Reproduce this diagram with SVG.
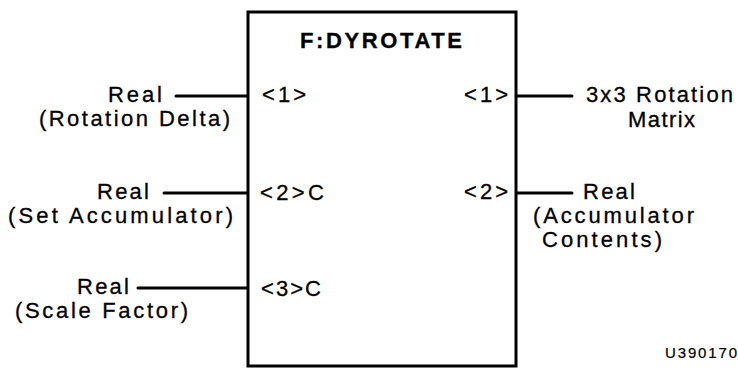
<svg xmlns="http://www.w3.org/2000/svg" width="738" height="369" viewBox="0 0 738 369">
<style>
text{font-family:"Liberation Sans",Arial,Helvetica,sans-serif;font-size:22px;fill:#000;stroke:#000;stroke-width:0.3}
.t{font-weight:bold;font-size:22px}
.id{font-size:15px;stroke-width:0.2}
.box{fill:#fff;stroke:#000;stroke-width:3}
.c{stroke:#000;stroke-width:3;stroke-linecap:round;fill:none}
</style>
<rect width="738" height="369" fill="#fff"/>
<g id="connectors">
<line class="c" x1="176" y1="96" x2="248" y2="96"/>
<line class="c" x1="164" y1="193" x2="248" y2="193"/>
<line class="c" x1="138" y1="288" x2="248" y2="288"/>
<line class="c" x1="516" y1="96" x2="572" y2="96"/>
<line class="c" x1="516" y1="193" x2="572" y2="193"/>
</g>
<g id="node-dyrotate">
<rect class="box" x="248" y="12" width="268" height="354"/>
<text class="t" x="300" y="48" textLength="162" lengthAdjust="spacing">F:DYROTATE</text>
<text x="262" y="102" textLength="44" lengthAdjust="spacing">&lt;1&gt;</text>
<text x="260" y="200" textLength="64" lengthAdjust="spacing">&lt;2&gt;C</text>
<text x="261" y="296" textLength="60" lengthAdjust="spacing">&lt;3&gt;C</text>
<text x="464" y="102" textLength="44" lengthAdjust="spacing">&lt;1&gt;</text>
<text x="464" y="199" textLength="44" lengthAdjust="spacing">&lt;2&gt;</text>
</g>
<g id="input-1">
<text x="108" y="102" textLength="54" lengthAdjust="spacing">Real</text>
<text x="39" y="126" textLength="191" lengthAdjust="spacing">(Rotation Delta)</text>
</g>
<g id="input-2">
<text x="97" y="199" textLength="52" lengthAdjust="spacing">Real</text>
<text x="8" y="223" textLength="225" lengthAdjust="spacing">(Set Accumulator)</text>
</g>
<g id="input-3">
<text x="77" y="294" textLength="52" lengthAdjust="spacing">Real</text>
<text x="15" y="318" textLength="173" lengthAdjust="spacing">(Scale Factor)</text>
</g>
<g id="output-1">
<text x="586" y="102" textLength="147" lengthAdjust="spacing">3x3 Rotation</text>
<text x="628" y="127" textLength="67" lengthAdjust="spacing">Matrix</text>
</g>
<g id="output-2">
<text x="583" y="199" textLength="52" lengthAdjust="spacing">Real</text>
<text x="533" y="223" textLength="161" lengthAdjust="spacing">(Accumulator</text>
<text x="542" y="247" textLength="120" lengthAdjust="spacing">Contents)</text>
</g>
<text class="id" x="665" y="358" textLength="72" lengthAdjust="spacing">U390170</text>
</svg>
